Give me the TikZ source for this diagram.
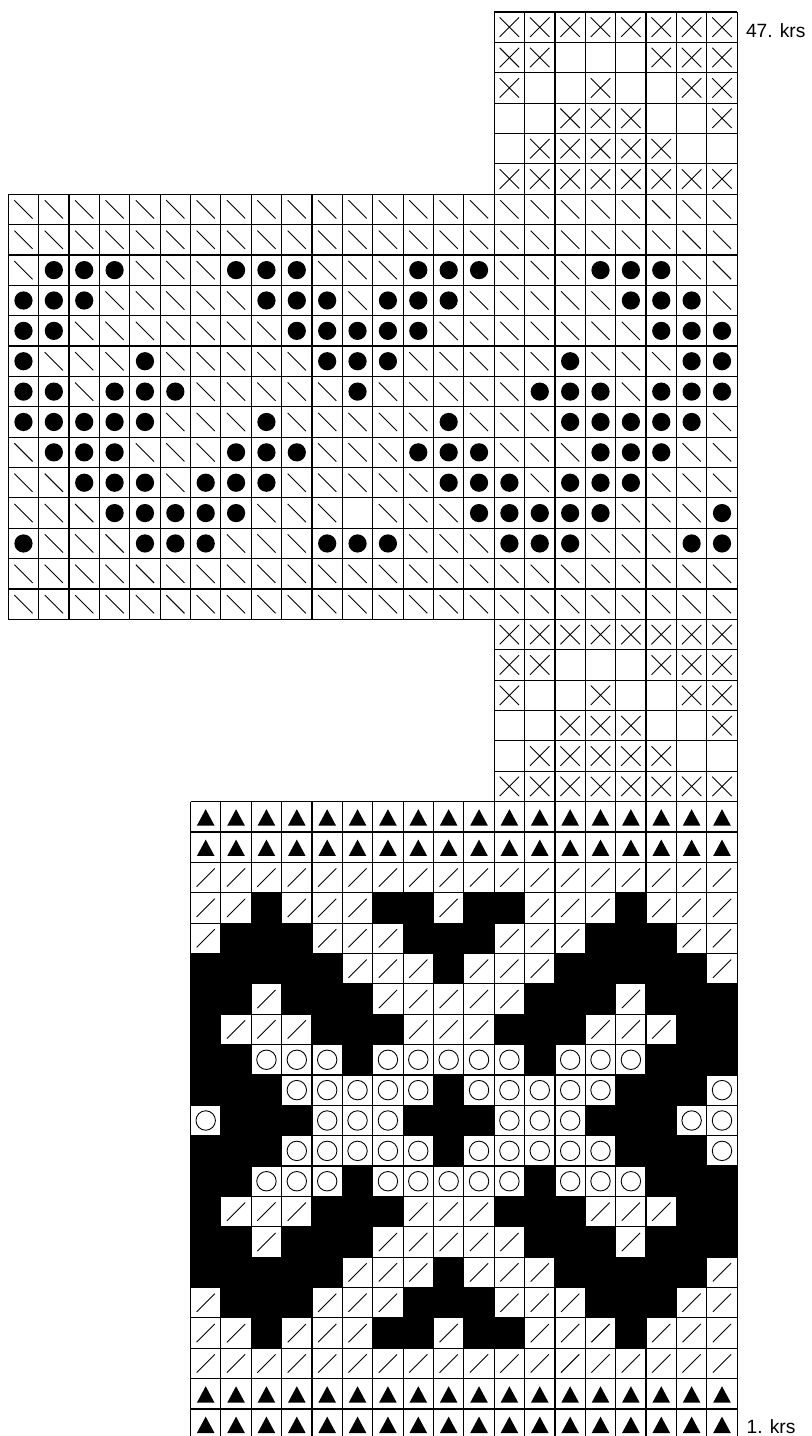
\documentclass[tikz,border=0pt]{standalone}
\usepackage{fontspec}
\setmainfont{Liberation Sans}

% chart symbols, #1/#2 = lower left corner of the cell
\newcommand{\stitchx}[2]{\draw[sym] (#1+.18,#2+.18) -- ++(.64,.64) (#1+.18,#2+.82) -- ++(.64,-.64);}
\newcommand{\stitchn}[2]{}
\newcommand{\stitchb}[2]{\draw[sym] (#1+.2,#2+.8) -- ++(.6,-.6);}
\newcommand{\stitchs}[2]{\draw[sym] (#1+.2,#2+.2) -- ++(.6,.6);}
\newcommand{\stitchd}[2]{\fill (#1+.5,#2+.5) circle (.3);}
\newcommand{\stitcho}[2]{\draw[sym] (#1+.5,#2+.5) circle (.32);}
\newcommand{\stitchk}[2]{\fill (#1,#2) rectangle ++(1,1);}
\newcommand{\stitcht}[2]{\fill (#1+.21,#2+.21) -- ++(.58,0) -- ++(-.29,.54) -- cycle;}

% one chart row: first column, row number, letters (spaces are skipped)
\newcommand{\chartrow}[3]{\def\cellx{#1}\pgfmathtruncatemacro\celly{#2-1}%
  \expandafter\readcells#3\relax}
\def\readcells#1{\ifx#1\relax\else
  \csname stitch#1\endcsname{\cellx}{\celly}%
  \pgfmathtruncatemacro\cellx{\cellx+1}%
  \expandafter\readcells\fi}

\begin{document}
\begin{tikzpicture}[x=0.6cm, y=0.6cm,
  gridline/.style={line width=0.65pt, step=1},
  sym/.style={line width=0.5pt},
  krs/.style={font=\fontsize{10.8}{12}\selectfont, inner sep=0pt, anchor=base west}]
\useasboundingbox (-0.273,0.112) rectangle (26.431,47.395);

% cross blocks, the lower one repeats the upper one 20 rows down
\foreach \r/\row in {47/xxxxxxxx, 46/xxnnnxxx, 45/xnnxnnxx,
                     44/nnxxxnnx, 43/nxxxxxnn, 42/xxxxxxxx}{
  \chartrow{16}{\r}{\row}
  \pgfmathtruncatemacro\rr{\r-20}
  \chartrow{16}{\rr}{\row}
}

% dot band
\foreach \r/\row in {41/bbbbbbbbbbbb bbbbbbbbbbbb,
                     40/bbbbbbbbbbbb bbbbbbbbbbbb,
                     39/bdddbbbdddbb bdddbbbdddbb,
                     38/dddbbbbbdddb dddbbbbbdddb,
                     37/ddbbbbbbbddd ddbbbbbbbddd,
                     36/dbbbdbbbbbdd dbbbbbdbbbdd,
                     35/ddbdddbbbbbd bbbbbdddbddd,
                     34/dddddbbbdbbb bbdbbbdddddb,
                     33/bdddbbbdddbb bdddbbbdddbb,
                     32/bbdddbdddbbb bbdddbdddbbb,
                     31/bbbdddddbbbn bbbdddddbbbd,
                     30/dbbbdddbbbdd dbbbdddbbbdd,
                     29/bbbbbbbbbbbb bbbbbbbbbbbb,
                     28/bbbbbbbbbbbb bbbbbbbbbbbb}{
  \chartrow{0}{\r}{\row}
}

% lower band, mirrored about row 11
\foreach \r/\row in {21/tttttttttttttttttt,
                     20/tttttttttttttttttt,
                     19/ssssssssssssssssss,
                     18/ss k sss kk s kk sss k sss,
                     17/s kkk sss kkk sss kkk ss,
                     16/kkkkk sss k sss kkkkk s,
                     15/kk s kkk sssss kkk s kkk,
                     14/k sss kkk sss kkk sss kk,
                     13/kk ooo k ooooo k ooo kkk,
                     12/kkk ooooo k ooooo kkk o}{
  \chartrow{6}{\r}{\row}
  \pgfmathtruncatemacro\rr{22-\r}
  \chartrow{6}{\rr}{\row}
}
\chartrow{6}{11}{o kkk ooo kkk ooo kkk oo}

\draw[gridline] (16,41) grid (24,47);
\draw[gridline] (0,27) grid (24,41);
\draw[gridline] (16,21) grid (24,27);
\draw[gridline] (6,0) grid (24,21);

\node[krs] (row47) at (24.28,46.15) {47. krs};
\node[krs] (row1) at (24.3,0.2) {1. krs};
\end{tikzpicture}
\end{document}
